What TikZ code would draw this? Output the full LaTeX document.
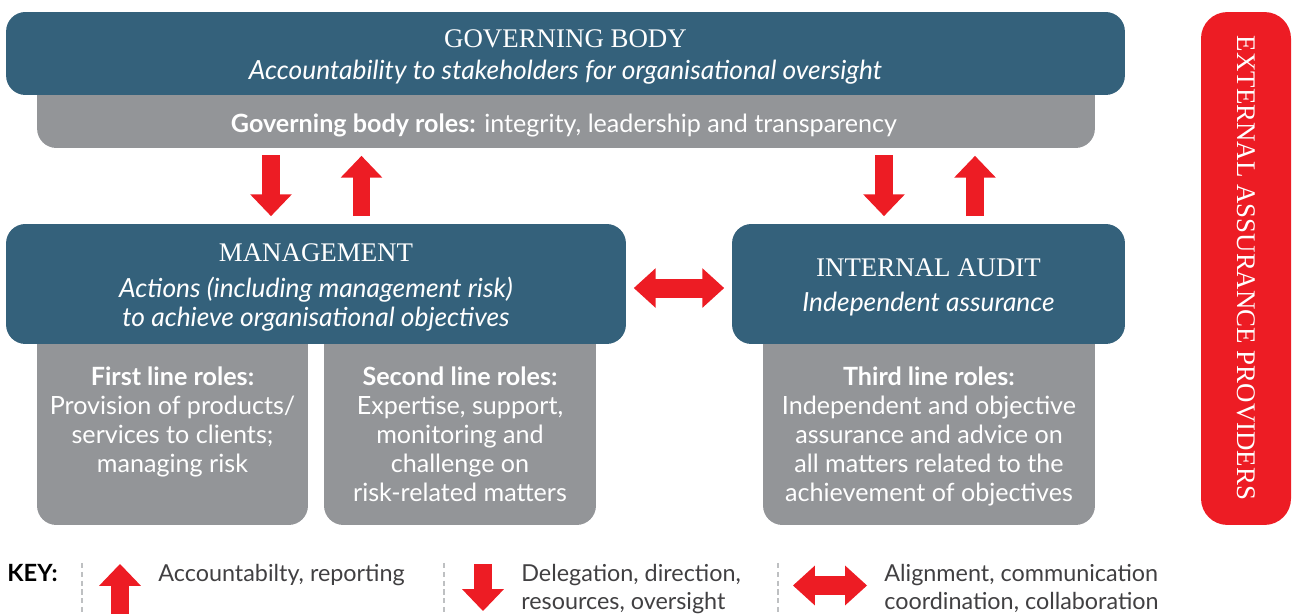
\documentclass[tikz,border=0pt]{standalone}
\usepackage{fontspec}
\setmainfont{Liberation Serif}
\setsansfont{Lato}
\usetikzlibrary{arrows.meta}

\definecolor{gbblue}{RGB}{52,97,123}
\definecolor{rolegrey}{RGB}{147,149,152}
\definecolor{keyred}{RGB}{237,28,36}
\definecolor{keygrey}{RGB}{65,64,66}
\definecolor{dashgrey}{RGB}{190,192,194}

\newcommand{\headfont}{\rmfamily\upshape\fontsize{15.3}{18}\selectfont}
\newcommand{\bodyfont}{\sffamily\fontsize{14.3}{16.6}\selectfont}
\newcommand{\slantfont}{\sffamily\itshape\fontsize{15}{16.6}\selectfont}
\newcommand{\keyfont}{\sffamily\fontsize{13.3}{16}\selectfont}

\tikzset{
  box/.style={inner sep=0pt, outer sep=0pt, rounded corners=11pt},
  bluebox/.style={box, fill=gbblue},
  bluetext/.style={text=white, align=center, font=\slantfont, inner sep=0pt, yshift=-2pt},
  greybox/.style={box, fill=rolegrey},
  roletext/.style={text=white, align=center, font=\bodyfont, inner sep=0pt},
  keytext/.style={text=keygrey, align=left, font=\keyfont, inner sep=0pt, anchor=north west},
  blockarrow/.style={draw=keyred, line width=10.2pt,
    -{Triangle[width=23.6pt, length=12.4pt, line width=0.8pt]}},
  twoway/.style={draw=keyred, line width=10.8pt,
    {Triangle[width=22.4pt, length=12.4pt, line width=0.8pt]}-{Triangle[width=22.4pt, length=12.4pt, line width=0.8pt]}},
  keyline/.style={draw=dashgrey, line width=0.8pt, dash pattern=on 3pt off 2pt}
}

\begin{document}
\begin{tikzpicture}[x=0.02cm, y=-0.02cm]
    \useasboundingbox (0,0) rectangle (1292,614);

    % governing body
    \node[greybox, minimum width=21.16cm, minimum height=1.76cm] (gbroles) at (566,104) {};
    \node[bluebox, minimum width=22.38cm, minimum height=1.66cm] (gb) at (565.5,53.5) {};
    \node[bluetext] (gbtext) at (gb.center)
        {{\headfont GOVERNING BODY}\\[1.2pt]Accountability to stakeholders for organisational oversight};
    \node[roletext] (gbrolestext) at (564,125)
        {\textbf{Governing body roles:} integrity, leadership and transparency};

    % lines
    \node[greybox, minimum width=5.42cm, minimum height=4.5cm] (first) at (172.5,412.5) {};
    \node[greybox, minimum width=5.44cm, minimum height=4.5cm] (second) at (460,412.5) {};
    \node[greybox, minimum width=6.64cm, minimum height=4.5cm] (third) at (929,412.5) {};
    \node[bluebox, minimum width=12.4cm, minimum height=2.4cm] (mgmt) at (316,284) {};
    \node[bluebox, minimum width=7.86cm, minimum height=2.4cm] (audit) at (928.5,284) {};
    \node[bluetext] (mgmttext) at (mgmt.center)
        {{\headfont MANAGEMENT}\\[4.2pt]Actions (including management risk)\\to achieve organisational objectives};
    \node[bluetext] (audittext) at (audit.center)
        {{\headfont INTERNAL AUDIT}\\[3.4pt]Independent assurance};

    \node[roletext, anchor=north] (firsttext) at (172.5,366)
        {\textbf{First line roles:}\\Provision of products/\\services to clients;\\managing risk};
    \node[roletext, anchor=north] (secondtext) at (460,366)
        {\textbf{Second line roles:}\\Expertise, support,\\monitoring and\\challenge on\\risk-related matters};
    \node[roletext, anchor=north] (thirdtext) at (929,366)
        {\textbf{Third line roles:}\\Independent and objective\\assurance and advice on\\all matters related to the\\achievement of objectives};

    % external
    \node[box, rounded corners=15pt, fill=keyred, minimum width=1.8cm, minimum height=10.26cm] (external) at (1246,268.5) {};
    \node[text=white, font=\headfont, rotate=-90, inner sep=0pt] (externaltext) at (1246,268)
        {EXTERNAL ASSURANCE PROVIDERS};

    % arrows
    \coordinate (downL) at (271,0);
    \coordinate (upL) at (361.5,0);
    \coordinate (downR) at (884,0);
    \coordinate (upR) at (975,0);
    \draw[blockarrow, shorten <=4pt, shorten >=4.5pt] (gbroles.south -| downL) -- (mgmt.north -| downL);
    \draw[blockarrow, shorten <=4.5pt, shorten >=4.5pt] (mgmt.north -| upL) -- (gbroles.south -| upL);
    \draw[blockarrow, shorten <=4pt, shorten >=4.5pt] (gbroles.south -| downR) -- (audit.north -| downR);
    \draw[blockarrow, shorten <=4.5pt, shorten >=4.5pt] (audit.north -| upR) -- (gbroles.south -| upR);
    \draw[twoway, shorten <=4.5pt, shorten >=4.5pt] ([yshift=-2.3pt]mgmt.east) -- ([yshift=-2.3pt]mgmt.east -| audit.west);

    % key
    \node[text=black, font=\sffamily\bfseries\fontsize{13.5}{16}\selectfont, anchor=base west, inner sep=0pt] (key) at (7,582) {KEY:};
    \coordinate (dash1top) at (82,563);
    \coordinate (dash1bot) at (82,614);
    \coordinate (dash2top) at (444,563);
    \coordinate (dash2bot) at (444,614);
    \coordinate (dash3top) at (778,563);
    \coordinate (dash3bot) at (778,614);
    \draw[keyline] (dash1top) -- (dash1bot);
    \draw[keyline] (dash2top) -- (dash2bot);
    \draw[keyline] (dash3top) -- (dash3bot);

    \coordinate (upfoot) at (120,614);
    \coordinate (uptip) at (120,564);
    \coordinate (downfoot) at (483,564);
    \coordinate (downtip) at (483,611);
    \coordinate (bothL) at (793,585.5);
    \coordinate (bothR) at (867,585.5);
    \draw[blockarrow] (upfoot) -- (uptip);
    \draw[blockarrow] (downfoot) -- (downtip);
    \draw[twoway] (bothL) -- (bothR);

    \node[keytext] (upkey) at (158,564) {Accountabilty, reporting};
    \node[keytext] (downkey) at (521,564) {Delegation, direction,\\resources, oversight};
    \node[keytext] (bothkey) at (884,564) {Alignment, communication\\coordination, collaboration};
\end{tikzpicture}
\end{document}
